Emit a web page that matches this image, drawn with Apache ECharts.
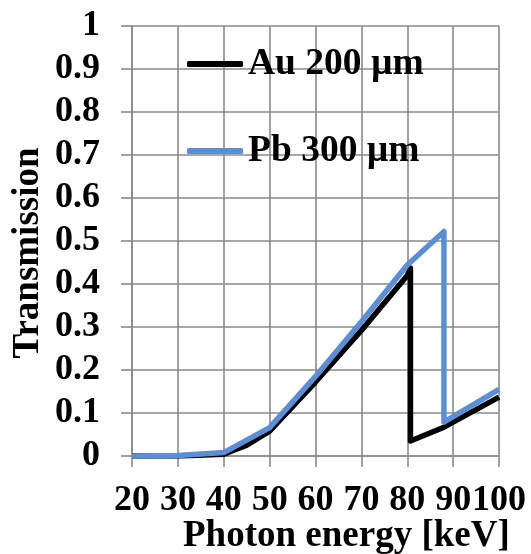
<!DOCTYPE html>
<html><head><meta charset="utf-8">
<script src="https://cdn.jsdelivr.net/npm/echarts@6/dist/echarts.min.js"></script>
<style>html,body{margin:0;padding:0;background:#fff}#c{width:531px;height:554px}</style>
</head><body><div id="c"></div>
<script>
const xTicks = [20, 30, 40, 50, 60, 70, 80, 90, 100];
const yTicks = [0, 0.1, 0.2, 0.3, 0.4, 0.5, 0.6, 0.7, 0.8, 0.9, 1];
const auName = 'Au 200 µm';
const auEnergy = [20, 30, 40, 45, 50, 60, 70, 80, 80.7, 80.7, 88, 100];
const auTrans  = [0, 0, 0.004, 0.025, 0.058, 0.172, 0.292, 0.42, 0.437, 0.035, 0.067, 0.137];
const pbName = 'Pb 300 µm';
const pbEnergy = [20, 30, 40, 50, 60, 70, 80, 88, 88, 100];
const pbTrans  = [0, 0.001, 0.008, 0.066, 0.185, 0.312, 0.444, 0.522, 0.079, 0.155];
const xTitle = 'Photon energy [keV]';
const yTitle = 'Transmission';

const FONT = '"Liberation Serif", "Times New Roman", serif';
const GRID = '#8a8a8a';
const pair = (xs, ys) => xs.map((x, i) => [x, ys[i]]);

const chart = echarts.init(document.getElementById('c'), null, {renderer: 'canvas'});
chart.setOption({
  animation: false,
  backgroundColor: '#fff',
  grid: {left: 132, right: 32, top: 26, bottom: 98, containLabel: false},
  legend: {
    orient: 'vertical', left: 182, top: 40, itemGap: 49,
    itemWidth: 56, itemHeight: 6, icon: 'roundRect',
    textStyle: {fontFamily: FONT, fontWeight: 'bold', fontSize: 37.5, color: '#000'},
    data: [auName, pbName]
  },
  xAxis: {
    type: 'value', min: xTicks[0], max: xTicks[xTicks.length - 1], interval: 10,
    axisLine: {show: true, lineStyle: {color: GRID, width: 1.6}},
    axisTick: {show: true, inside: false, length: 11, lineStyle: {color: GRID, width: 1.6}},
    axisLabel: {margin: 27, fontFamily: FONT, fontWeight: 'bold', fontSize: 36, color: '#000'},
    splitLine: {show: true, lineStyle: {color: GRID, width: 1.6}}
  },
  yAxis: {
    type: 'value', min: yTicks[0], max: yTicks[yTicks.length - 1], interval: 0.1,
    axisLine: {show: true, lineStyle: {color: GRID, width: 1.6}},
    axisTick: {show: true, inside: false, length: 11, lineStyle: {color: GRID, width: 1.6}},
    axisLabel: {margin: 32, fontFamily: FONT, fontWeight: 'bold', fontSize: 36, color: '#000',
      formatter: v => String(Math.round(v * 10) / 10)},
    splitLine: {show: true, lineStyle: {color: GRID, width: 1.6}}
  },
  graphic: [
    {type: 'text', left: 183, top: 518, style: {text: xTitle, font: 'bold 37px ' + FONT, fill: '#000'}},
    {type: 'text', x: 28, y: 253, rotation: Math.PI / 2,
      style: {text: yTitle, font: 'bold 37px ' + FONT, fill: '#000', align: 'center', verticalAlign: 'middle'}}
  ],
  series: [
    {name: auName, type: 'line', data: pair(auEnergy, auTrans), showSymbol: false, symbol: 'none',
      color: '#000', lineStyle: {color: '#000', width: 5.5, join: 'round'}, z: 2},
    {name: pbName, type: 'line', data: pair(pbEnergy, pbTrans), showSymbol: false, symbol: 'none',
      color: '#5b8fd5', lineStyle: {color: '#5b8fd5', width: 5.5, join: 'round'}, z: 3}
  ]
});
</script></body></html>
